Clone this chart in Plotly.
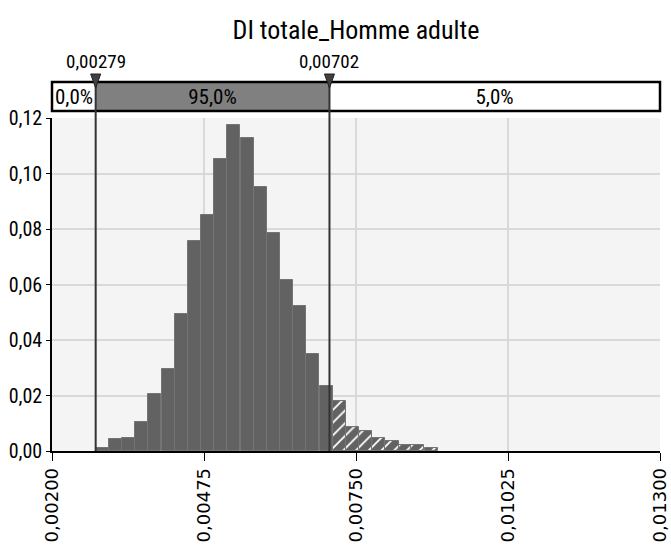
import plotly.graph_objects as go

# histogram of the simulated output (bin centre, probability per bin)
bin_centers = [0.00291, 0.00315, 0.00339, 0.00362, 0.00386, 0.00410, 0.00434,
               0.00458, 0.00482, 0.00505, 0.00529, 0.00553, 0.00577, 0.00601,
               0.00624, 0.00648, 0.00672, 0.00696, 0.00720, 0.00743, 0.00767,
               0.00791, 0.00815, 0.00839, 0.00862, 0.00886]
bin_probs = [0.0011, 0.0042, 0.0048, 0.0106, 0.0207, 0.0294, 0.0495,
             0.0755, 0.0849, 0.1054, 0.1173, 0.1128, 0.0950, 0.0784,
             0.0618, 0.0524, 0.0351, 0.0236, 0.0180, 0.0086, 0.0071,
             0.0048, 0.0035, 0.0020, 0.0020, 0.0012]
bin_width = 0.000238

# delimiters and band labels
cutoffs = [0.00279, 0.00702]
cutoff_labels = ["0,00279", "0,00702"]
band_edges = [0.00200, 0.00279, 0.00702, 0.01300]
band_labels = ["0,0%", "95,0%", "5,0%"]
band_colors = ["white", "#808080", "white"]

x_ticks = [0.00200, 0.00475, 0.00750, 0.01025, 0.01300]

narrow = ("Liberation Sans Narrow, Noto Sans Condensed, Roboto Condensed, "
          "Roboto, sans-serif")

fig = go.Figure()

hatch = ["/" if c > cutoffs[1] else "" for c in bin_centers]
fig.add_trace(go.Bar(
    x=bin_centers, y=bin_probs, width=bin_width,
    marker=dict(color="#626262", line=dict(color="#747474", width=1),
                pattern=dict(shape=hatch, fgcolor="white", bgcolor="#626262",
                             size=9, solidity=0.2, fillmode="replace")),
    showlegend=False, hoverinfo="x+y"))

# delimiter band above the plot
for i, lab in enumerate(band_labels):
    fig.add_trace(go.Bar(
        y=[0.5], x=[band_edges[i + 1] - band_edges[i]], base=[band_edges[i]],
        orientation="h", width=1, xaxis="x", yaxis="y2",
        marker=dict(color=band_colors[i], line=dict(width=0)),
        text=[lab], textposition="inside", insidetextanchor="middle",
        constraintext="none",
        textfont=dict(family=narrow, size=21, color="black"),
        showlegend=False, hoverinfo="skip"))

band_top = (451 - 82) / 401
shapes = [dict(type="rect", xref="x domain", yref="y2 domain", x0=0, x1=1,
               y0=0, y1=1, line=dict(color="black", width=2.5))]
annotations = []
for c, lab in zip(cutoffs, cutoff_labels):
    shapes.append(dict(type="line", xref="x", yref="paper", x0=c, x1=c,
                       y0=0, y1=band_top, layer="above",
                       line=dict(color="#333333", width=2)))
    shapes.append(dict(type="path", xref="x", yref="paper",
                       xsizemode="pixel", ysizemode="pixel",
                       xanchor=c, yanchor=band_top,
                       path="M-5,8 L5,8 L0,-6 Z",
                       fillcolor="#404040", line=dict(color="#202020", width=1)))
    annotations.append(dict(x=c, y=band_top, xref="x", yref="paper",
                            text=lab, showarrow=False, yanchor="bottom",
                            yshift=7, font=dict(family=narrow, size=19,
                                                color="black")))

fig.update_layout(
    width=671, height=550,
    margin=dict(l=52, r=11, t=50, b=99),
    separators=",.",
    paper_bgcolor="white", plot_bgcolor="#f4f4f4",
    bargap=0, barmode="overlay",
    font=dict(family=narrow, size=18, color="black"),
    title=dict(text="DI totale_Homme adulte", x=0.5, xref="paper",
               y=1 - 30 / 550, yref="container", yanchor="middle",
               font=dict(family=narrow, size=26, color="black")),
    xaxis=dict(range=[0.002, 0.013], tickvals=x_ticks, tickformat=".5f",
               tickangle=-90, ticks="outside", ticklen=8, tickcolor="black",
               showline=True, linecolor="black", linewidth=1.5,
               showgrid=True, gridcolor="#d9d9d9", gridwidth=2,
               zeroline=False, anchor="y", automargin=False,
               ticklabeloverflow="allow",
               tickfont=dict(family="DejaVu Sans", size=18, color="black")),
    yaxis=dict(domain=[0, (451 - 118) / 401], range=[0, 0.12], dtick=0.02,
               tickformat=".2f", ticks="outside", ticklen=4,
               tickcolor="black", showline=True, linecolor="black",
               linewidth=1.5, showgrid=True, gridcolor="#d9d9d9",
               gridwidth=2, zeroline=False, automargin=False,
               tickfont=dict(family=narrow, size=20, color="black")),
    yaxis2=dict(domain=[(451 - 111) / 401, band_top], range=[0, 1],
                visible=False, fixedrange=True, automargin=False),
    shapes=shapes, annotations=annotations,
)

# the page's default body margin would shift the figure by 8px
fig.write_html("out.html", config={"displayModeBar": False},
               post_script="document.body.style.margin='0px';")
